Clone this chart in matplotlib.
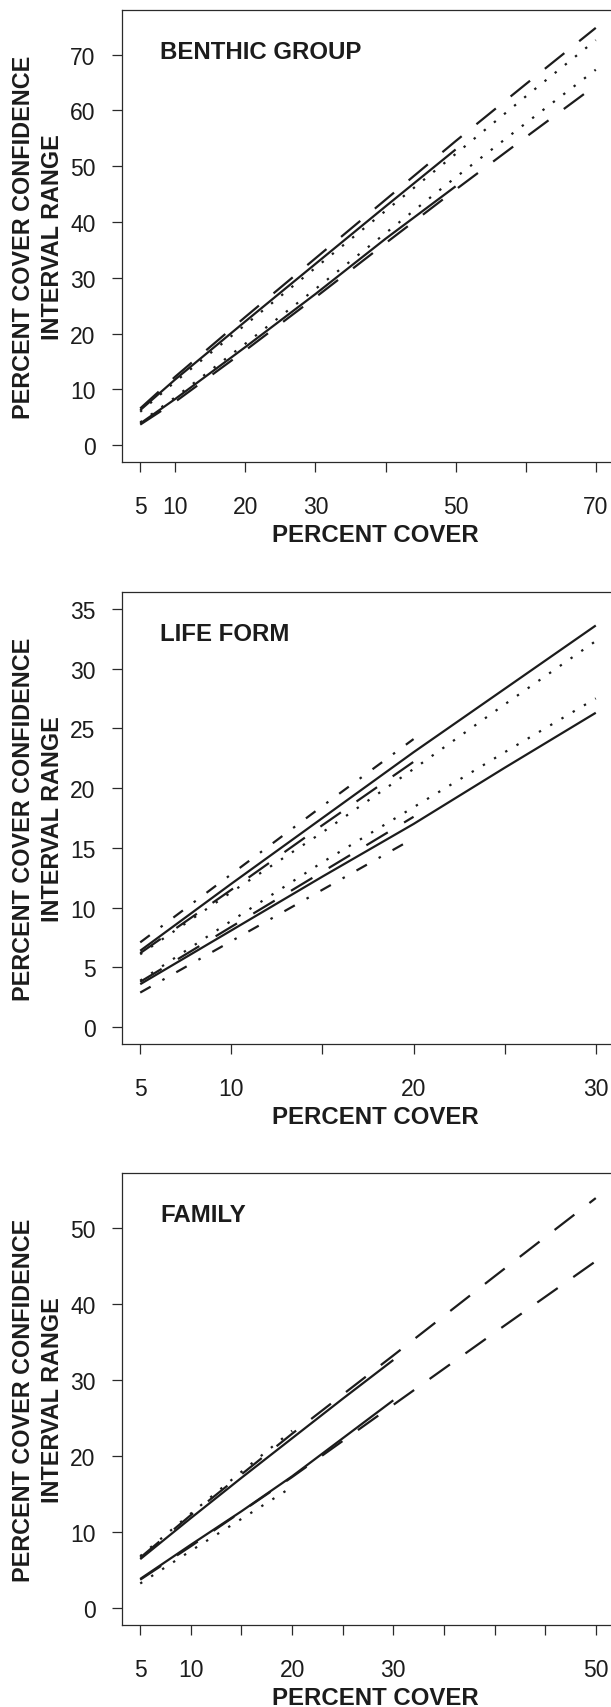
import matplotlib
matplotlib.use("Agg")
import matplotlib.pyplot as plt

plt.rcParams['font.family'] = ['Liberation Sans', 'DejaVu Sans']
plt.rcParams['lines.scale_dashes'] = False

# ---------------- data ----------------
# Panel 1: BENTHIC GROUP
bg_x = [5, 10, 20, 30, 40, 50, 60, 70]
bg_solid_x = [5, 10, 20, 30, 40, 50]
bg_solid_hi = [6.3, 11.8, 22.2, 32.5, 42.8, 53.0]
bg_solid_lo = [3.9, 8.3, 17.6, 27.1, 37.0, 46.4]
bg_dot_hi = [6.0, 11.4, 21.6, 31.8, 42.0, 52.2, 62.5, 72.6]
bg_dot_lo = [4.1, 8.6, 18.2, 28.0, 38.0, 48.0, 57.7, 67.3]
bg_dash_hi = [6.6, 12.3, 23.0, 33.5, 44.0, 54.5, 64.7, 74.8]
bg_dash_lo = [3.7, 7.8, 17.0, 26.5, 36.2, 45.8, 55.2, 64.5]

# Panel 2: LIFE FORM
lf_x = [5, 10, 15, 20, 25, 30]
lf_solid_hi = [6.4, 12.0, 17.5, 23.0, 28.3, 33.6]
lf_solid_lo = [3.6, 8.1, 12.6, 17.0, 21.7, 26.3]
lf_dot_hi = [6.1, 11.3, 16.3, 21.6, 27.0, 32.3]
lf_dot_lo = [3.9, 8.9, 13.8, 18.4, 23.0, 27.5]
lf_short_x = [5, 10, 15, 20]
lf_dash_hi = [6.2, 11.5, 16.9, 22.2]
lf_dash_lo = [3.8, 8.4, 13.0, 17.6]
lf_dotdash_hi = [7.1, 12.8, 18.5, 24.1]
lf_dotdash_lo = [2.9, 7.2, 11.5, 15.8]

# Panel 3: FAMILY
fa_x = [5, 10, 20, 30, 40, 50]
fa_solid_x = [5, 10, 15, 20, 25, 30]
fa_solid_hi = [6.4, 11.8, 17.1, 22.3, 27.5, 32.6]
fa_solid_lo = [3.8, 8.3, 12.7, 17.3, 22.3, 27.3]
fa_dash_hi = [6.6, 12.2, 22.9, 33.2, 43.6, 53.9]
fa_dash_lo = [3.7, 8.1, 17.2, 26.7, 36.2, 45.6]
fa_dot_x = [5, 10, 15, 20]
fa_dot_hi = [6.8, 12.4, 17.9, 23.3]
fa_dot_lo = [3.2, 7.5, 11.7, 15.9]

# ticks
bg_xticks = [5, 10, 20, 30, 40, 50, 60, 70]
bg_xlabels = ['5', '10', '20', '30', '', '50', '', '70']
bg_yticks = [0, 10, 20, 30, 40, 50, 60, 70]
lf_xticks = [5, 10, 15, 20, 25, 30]
lf_xlabels = ['5', '10', '', '20', '', '30']
lf_yticks = [0, 5, 10, 15, 20, 25, 30, 35]
fa_xticks = [5, 10, 15, 20, 25, 30, 35, 40, 45, 50]
fa_xlabels = ['5', '10', '', '20', '', '30', '', '', '', '50']
fa_yticks = [0, 10, 20, 30, 40, 50]

titles = ['BENTHIC GROUP', 'LIFE FORM', 'FAMILY']
ylab1 = 'PERCENT COVER CONFIDENCE'
ylab2 = 'INTERVAL RANGE'
xlab = 'PERCENT COVER'

# ---------------- styling ----------------
W, H = 611, 1708
fig = plt.figure(figsize=(W / 100, H / 100), dpi=100)

INK = '#1c1c1c'
FRAME = '#2a2a2a'
LW = 1.6
SOLID = '-'
DASH = (0, (18, 13.7))
DOT = (0, (1.7, 7.7))
DOTDASH = (0, (8.6, 9.7, 1.8, 9.7))
TITLE_FS = 17.3
YLAB_FS = 16.8
TICK_FS = 16.5

AX_LEFT, AX_W, AX_H = 122, 492, 452
tops = [11, 593, 1174]


def make_ax(top):
    return fig.add_axes([AX_LEFT / W, 1 - (top + AX_H) / H, AX_W / W, AX_H / H])


def style(ax, top, xlim, ylim, xticks, xlabels, yticks, title):
    ax.set_xlim(*xlim)
    ax.set_ylim(*ylim)
    ax.set_xticks(xticks)
    ax.set_xticklabels(xlabels)
    ax.set_yticks(yticks)
    ax.set_yticklabels([str(v) for v in yticks])
    for s in ax.spines.values():
        s.set_linewidth(0.9)
        s.set_color(FRAME)
    ax.tick_params(axis='both', direction='out', length=7, width=0.9,
                   color=FRAME, labelcolor=INK, labelsize=TICK_FS)
    ax.tick_params(axis='x', pad=17)
    ax.tick_params(axis='y', pad=12)
    # title
    fig.text(160 / W, 1 - (top + 41.5) / H, title, ha='left', va='center',
             fontsize=TITLE_FS, fontweight='bold', color=INK)
    # y label (two lines)
    yc = 1 - (top + AX_H / 2) / H
    fig.text(23.4 / W, yc, ylab1, rotation=90, ha='center', va='center',
             fontsize=YLAB_FS, fontweight='bold', color=INK)
    fig.text(52.6 / W, yc, ylab2, rotation=90, ha='center', va='center',
             fontsize=YLAB_FS, fontweight='bold', color=INK)
    # x label
    fig.text(375 / W, 1 - (top + AX_H + 72.5) / H, xlab, ha='center',
             va='center', fontsize=TITLE_FS, fontweight='bold', color=INK)


def line(ax, x, y, ls):
    ax.plot(x, y, color=INK, lw=LW, linestyle=ls, solid_capstyle='butt',
            dash_capstyle='butt', clip_on=False)


# Panel 1
ax1 = make_ax(tops[0])
line(ax1, bg_solid_x, bg_solid_hi, SOLID)
line(ax1, bg_solid_x, bg_solid_lo, SOLID)
line(ax1, bg_x, bg_dot_hi, DOT)
line(ax1, bg_x, bg_dot_lo, DOT)
line(ax1, bg_x, bg_dash_hi, DASH)
line(ax1, bg_x, bg_dash_lo, DASH)
style(ax1, tops[0], (2.4, 72.6), (-3, 78), bg_xticks, bg_xlabels, bg_yticks, titles[0])

# Panel 2
ax2 = make_ax(tops[1])
line(ax2, lf_x, lf_solid_hi, SOLID)
line(ax2, lf_x, lf_solid_lo, SOLID)
line(ax2, lf_x, lf_dot_hi, DOT)
line(ax2, lf_x, lf_dot_lo, DOT)
line(ax2, lf_short_x, lf_dash_hi, DASH)
line(ax2, lf_short_x, lf_dash_lo, DASH)
line(ax2, lf_short_x, lf_dotdash_hi, DOTDASH)
line(ax2, lf_short_x, lf_dotdash_lo, DOTDASH)
style(ax2, tops[1], (4, 31), (-1.4, 36.4), lf_xticks, lf_xlabels, lf_yticks, titles[1])

# Panel 3
ax3 = make_ax(tops[2])
line(ax3, fa_solid_x, fa_solid_hi, SOLID)
line(ax3, fa_solid_x, fa_solid_lo, SOLID)
line(ax3, fa_x, fa_dash_hi, DASH)
line(ax3, fa_x, fa_dash_lo, DASH)
line(ax3, fa_dot_x, fa_dot_hi, DOT)
line(ax3, fa_dot_x, fa_dot_lo, DOT)
style(ax3, tops[2], (3.2, 51.8), (-2.26, 57.2), fa_xticks, fa_xlabels, fa_yticks, titles[2])

fig.savefig('out.png', dpi=100)
